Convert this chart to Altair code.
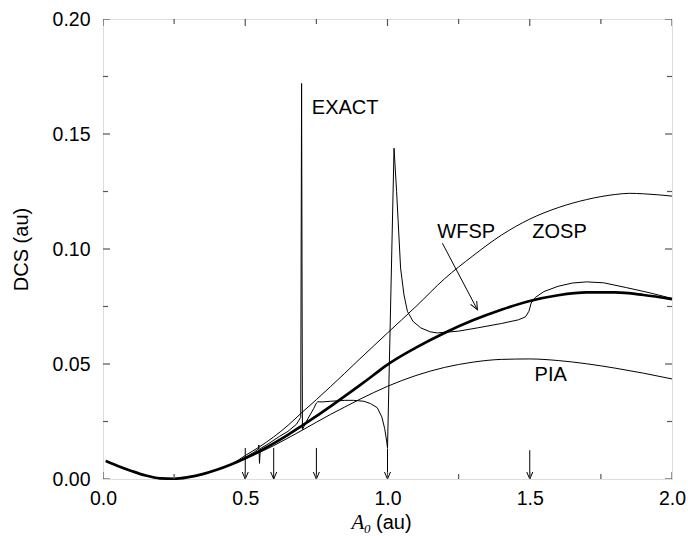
import altair as alt
import pandas as pd

# ---------------- data ----------------
wfsp_x = [0.01, 0.05, 0.1, 0.15, 0.2, 0.25, 0.3, 0.35, 0.4, 0.45, 0.5, 0.55, 0.6, 0.65, 0.7,
          0.75, 0.8, 0.85, 0.9, 0.95, 1.0, 1.1, 1.2, 1.3, 1.4, 1.5, 1.6, 1.7, 1.8, 1.9, 2.0]
wfsp_y = [0.0078, 0.0058, 0.0035, 0.0015, 0.0003, 0.0001, 0.0008, 0.0021, 0.0040, 0.0063, 0.0090,
          0.0121, 0.0155, 0.0192, 0.0232, 0.0273, 0.0316, 0.0360, 0.0405, 0.0451, 0.0497, 0.0571,
          0.0635, 0.0690, 0.0736, 0.0774, 0.0799, 0.0811, 0.0811, 0.0800, 0.0782]

zosp_x = [0.01, 0.05, 0.1, 0.15, 0.2, 0.25, 0.3, 0.35, 0.4, 0.45, 0.5, 0.55, 0.6, 0.65, 0.7,
          0.75, 0.8, 0.85, 0.9, 0.95, 1.0, 1.1, 1.2, 1.3, 1.4, 1.5, 1.6, 1.7, 1.8, 1.85, 1.9, 2.0]
zosp_y = [0.0078, 0.0058, 0.0035, 0.0015, 0.0003, 0.0001, 0.0008, 0.0021, 0.0040, 0.0063, 0.0102,
          0.0140, 0.0183, 0.0233, 0.0290, 0.0345, 0.0402, 0.0460, 0.0519, 0.0577, 0.0635, 0.0750,
          0.0870, 0.0970, 0.1060, 0.1130, 0.1180, 0.1215, 0.1237, 0.1242, 0.1240, 0.1230]

pia_x = [0.01, 0.05, 0.1, 0.15, 0.2, 0.25, 0.3, 0.35, 0.4, 0.45, 0.5, 0.55, 0.6, 0.65, 0.7,
         0.75, 0.8, 0.85, 0.9, 0.95, 1.0, 1.1, 1.2, 1.3, 1.4, 1.5, 1.6, 1.7, 1.8, 1.9, 2.0]
pia_y = [0.0078, 0.0058, 0.0035, 0.0015, 0.0003, 0.0001, 0.0008, 0.0021, 0.0040, 0.0063, 0.0088,
         0.0115, 0.0145, 0.0178, 0.0212, 0.0247, 0.0281, 0.0313, 0.0345, 0.0375, 0.0403, 0.0450,
         0.0485, 0.0508, 0.0520, 0.0522, 0.0515, 0.0501, 0.0482, 0.0460, 0.0435]

exact_x = [0.01, 0.05, 0.1, 0.15, 0.2, 0.25, 0.3, 0.35, 0.4, 0.45,
           0.5, 0.53, 0.546, 0.548, 0.550, 0.553,
           0.58, 0.62, 0.65, 0.68, 0.695, 0.698, 0.701,
           0.72, 0.74, 0.75, 0.755, 0.77, 0.8, 0.85, 0.88,
           0.917, 0.94, 0.964, 0.98, 0.99, 0.997, 1.0,
           1.023, 1.032, 1.046, 1.058, 1.07, 1.09, 1.117, 1.15, 1.175,
           1.25, 1.316, 1.4, 1.46, 1.485, 1.497, 1.505, 1.52, 1.55,
           1.6, 1.65, 1.7, 1.76, 1.84, 1.92, 2.0]
exact_y = [0.0078, 0.0058, 0.0035, 0.0015, 0.0003, 0.0001, 0.0008, 0.0021, 0.0040, 0.0063,
           0.0094, 0.0116, 0.0130, 0.0148, 0.0068, 0.0132,
           0.0152, 0.0185, 0.0207, 0.0238, 0.0268, 0.1720, 0.0215,
           0.0262, 0.0305, 0.0330, 0.0336, 0.0335, 0.0338, 0.0342, 0.0342,
           0.0338, 0.0328, 0.0310, 0.0270, 0.0220, 0.0165, 0.0135,
           0.1438, 0.1250, 0.0917, 0.0800, 0.0729, 0.0685, 0.0657, 0.0640, 0.0635,
           0.0643, 0.0657, 0.0676, 0.0692, 0.0705, 0.0729, 0.0765, 0.0790, 0.0815,
           0.0838, 0.0852, 0.0857, 0.0853, 0.0832, 0.0810, 0.0785]

# threshold arrows
arrow_x = [0.5, 0.6, 0.75, 1.0, 1.5]
arrow_top = [0.0135, 0.0135, 0.0135, 0.0133, 0.0125]

# curve labels
label_text = ["EXACT", "WFSP", "ZOSP", "PIA"]
label_x = [0.734, 1.175, 1.509, 1.517]
label_y = [0.1587, 0.1047, 0.1047, 0.0425]

# WFSP pointer (from, to)
pointer_from = (1.193, 0.1025)
pointer_to = (1.316, 0.0736)

# axis ticks
x_major = [0.0, 0.5, 1.0, 1.5, 2.0]
x_minor = [0.25, 0.75, 1.25, 1.75]
y_major = [0.0, 0.05, 0.10, 0.15, 0.20]
y_minor = [0.025, 0.075, 0.125, 0.175]

# ---------------- tables ----------------
def curve(name, xs, ys):
    return pd.DataFrame({"series": name, "x": xs, "y": ys, "i": range(len(xs))})

thin_df = pd.concat([curve("ZOSP", zosp_x, zosp_y), curve("PIA", pia_x, pia_y)])
exact_df = curve("EXACT", exact_x, exact_y)
wfsp_df = curve("WFSP", wfsp_x, wfsp_y)
arrows_df = pd.DataFrame({"x": arrow_x, "y": arrow_top, "y0": [0.0] * len(arrow_x)})
heads_df = pd.DataFrame({"x": arrow_x, "y": [0.0] * len(arrow_x)})
labels_df = pd.DataFrame({"label": label_text, "x": label_x, "y": label_y})
pointer_df = pd.DataFrame({"x": [pointer_from[0]], "y": [pointer_from[1]],
                           "x2": [pointer_to[0]], "y2": [pointer_to[1]]})
pointer_head_df = pd.DataFrame({"x": [pointer_to[0]], "y": [pointer_to[1]]})

xt_major_df = pd.DataFrame({"x": x_major * 2, "y": [0.0] * 5 + [0.2] * 5})
xt_minor_df = pd.DataFrame({"x": x_minor * 2, "y": [0.0] * 4 + [0.2] * 4})
yt_major_df = pd.DataFrame({"y": y_major * 2, "x": [0.0] * 5 + [2.0] * 5})
yt_minor_df = pd.DataFrame({"y": y_minor * 2, "x": [0.0] * 4 + [2.0] * 4})

# ---------------- encodings ----------------
FONT = "Liberation Sans"
xs = alt.Scale(domain=[0, 2], nice=False, zero=False)
ys = alt.Scale(domain=[0, 0.2], nice=False, zero=False)
xaxis = alt.Axis(values=x_major, format=".1f", domain=False, ticks=False, tickSize=0, grid=False,
                 labelPadding=10, labelFontSize=19.5, labelFont=FONT, labelColor="black",
                 labelFlush=False, labelOverlap=False, title=None)
yaxis = alt.Axis(values=y_major, format=".2f", domain=False, ticks=False, tickSize=0, grid=False,
                 labelPadding=13, labelFontSize=19.5, labelFont=FONT, labelColor="black",
                 labelFlush=False, labelOverlap=False,
                 title="DCS (au)", titleFont=FONT, titleFontSize=20, titleFontWeight="normal",
                 titleColor="black", titleX=-76, titleY=230, titleAlign="center",
                 titleBaseline="alphabetic", titleAngle=270)

def X():
    return alt.X("x:Q", scale=xs, axis=xaxis)

def Y():
    return alt.Y("y:Q", scale=ys, axis=yaxis)

layers = []
layers.append(alt.Chart(thin_df).mark_line(interpolate="monotone", color="black", strokeWidth=1)
              .encode(x=X(), y=Y(), detail="series:N", order="i:Q"))
layers.append(alt.Chart(exact_df).mark_line(color="black", strokeWidth=1)
              .encode(x=X(), y=Y(), order="i:Q"))
layers.append(alt.Chart(wfsp_df).mark_line(interpolate="monotone", color="black", strokeWidth=2.7)
              .encode(x=X(), y=Y(), order="i:Q"))
# arrows
layers.append(alt.Chart(arrows_df).mark_rule(color="black", strokeWidth=1)
              .encode(x=X(), y=Y(), y2="y0:Q"))
layers.append(alt.Chart(heads_df).mark_point(shape="M-0.43,-1L0,0L0.43,-1", filled=False, size=196,
                                              color="black", strokeWidth=1, opacity=1)
              .encode(x=X(), y=Y()))
# WFSP pointer
layers.append(alt.Chart(pointer_df).mark_rule(color="black", strokeWidth=1)
              .encode(x=X(), y=Y(), x2="x2:Q", y2="y2:Q"))
layers.append(alt.Chart(pointer_head_df).mark_point(shape="M-0.43,-1L0,0L0.43,-1", filled=False,
                                                    size=256, angle=332, color="black",
                                                    strokeWidth=1, opacity=1)
              .encode(x=X(), y=Y()))
# labels
layers.append(alt.Chart(labels_df).mark_text(font=FONT, fontSize=20, color="black", align="left",
                                              baseline="alphabetic")
              .encode(x=X(), y=Y(), text="label:N"))
# inward ticks on all four sides
for df, orient, size in [(xt_major_df, "vertical", 14), (xt_minor_df, "vertical", 10),
                         (yt_major_df, "horizontal", 14), (yt_minor_df, "horizontal", 10)]:
    layers.append(alt.Chart(df).mark_tick(orient=orient, size=size, thickness=1.2, color="#555",
                                          opacity=1, clip=True)
                  .encode(x=X(), y=Y()))

# x-axis title: italic A with subscript 0, then (au)
one = pd.DataFrame({"k": [0]})
layers.append(alt.Chart(one).mark_text(text="A", font="Liberation Serif", fontStyle="italic",
                                       fontSize=21, color="black", align="left",
                                       baseline="alphabetic")
              .encode(x=alt.value(248.5), y=alt.value(510)))
layers.append(alt.Chart(one).mark_text(text="0", font="Liberation Serif", fontStyle="italic",
                                       fontSize=13, color="black", align="left",
                                       baseline="alphabetic")
              .encode(x=alt.value(261), y=alt.value(513.5)))
layers.append(alt.Chart(one).mark_text(text="(au)", font=FONT, fontSize=20, color="black",
                                       align="left", baseline="alphabetic")
              .encode(x=alt.value(273), y=alt.value(510)))

chart = (alt.layer(*layers)
         .properties(width=569, height=460,
                     padding={"left": 103, "top": 19, "right": 16, "bottom": 57},
                     autosize=alt.AutoSizeParams(type="none"))
         .configure_view(stroke="#555", strokeWidth=1.5)
         .configure(background="white"))

chart.save("out.html", embed_options={"renderer": "svg", "actions": False})
